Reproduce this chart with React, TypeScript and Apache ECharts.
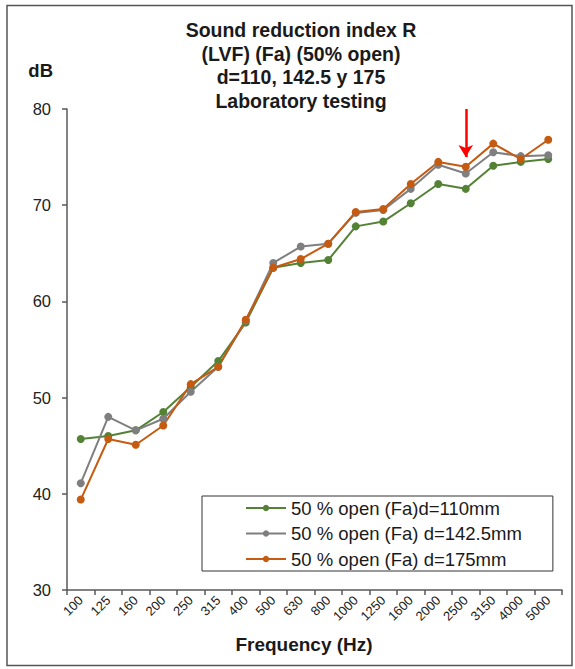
import React, { useEffect, useRef } from "react";
import * as echarts from "echarts";

const frequencies = ["100", "125", "160", "200", "250", "315", "400", "500", "630", "800", "1000", "1250", "1600", "2000", "2500", "3150", "4000", "5000"];
const seriesNames = ["50 % open (Fa)d=110mm", "50 % open (Fa) d=142.5mm", "50 % open (Fa) d=175mm"];
const d110 = [45.7, 46.0, 46.6, 48.5, 51.1, 53.8, 57.8, 63.5, 64.0, 64.3, 67.8, 68.3, 70.2, 72.2, 71.7, 74.1, 74.5, 74.8];
const d1425 = [41.1, 48.0, 46.6, 47.8, 50.6, 53.2, 58.0, 64.0, 65.7, 66.0, 69.2, 69.5, 71.7, 74.2, 73.3, 75.5, 75.1, 75.2];
const d175 = [39.4, 45.7, 45.1, 47.1, 51.4, 53.2, 58.1, 63.5, 64.4, 66.0, 69.3, 69.6, 72.2, 74.5, 74.0, 76.4, 74.8, 76.8];
const colors = ["#548235", "#7F7F7F", "#C55A11"];
const yTicks = { min: 30, max: 80, interval: 10 };
const arrowAt = { freq: "2500", from: 80, to: 75 };
const titleLines = ["Sound reduction index R", "(LVF) (Fa) (50% open)", "d=110, 142.5 y 175", "Laboratory testing"];

const FONT = "'Liberation Sans', Arial, sans-serif";

export default function App() {
  const ref = useRef<HTMLDivElement>(null);
  useEffect(() => {
    if (!ref.current) return;
    const chart = echarts.init(ref.current, undefined, { renderer: "svg" });
    const mkSeries = (name: string, data: number[], color: string, extra: any = {}) => ({
      name,
      type: "line",
      data,
      symbol: "circle",
      symbolSize: 8,
      itemStyle: { color },
      lineStyle: { color, width: 2 },
      ...extra,
    });
    chart.setOption({
      animation: false,
      textStyle: { fontFamily: FONT },
      grid: { left: 67, right: 13, top: 109, bottom: 79 },
      graphic: [
        {
          type: "rect",
          shape: { x: 7, y: 5.5, width: 565, height: 660 },
          style: { fill: "none", stroke: "#555", lineWidth: 1.5 },
          silent: true,
        },
        {
          type: "text",
          x: 301,
          y: 18,
          style: {
            text: titleLines.join("\n"),
            font: `bold 19.5px ${FONT}`,
            fill: "#1a1a1a",
            textAlign: "center",
            textVerticalAlign: "top",
            lineHeight: 23.7,
          },
        },
      ],
      legend: {
        orient: "vertical",
        left: 202,
        top: 496,
        padding: [2, 31, 2, 43],
        itemWidth: 40,
        itemHeight: 8,
        itemGap: 5.5,
        borderColor: "#333",
        borderWidth: 1,
        textStyle: { fontSize: 18.5, color: "#1a1a1a", fontFamily: FONT, lineHeight: 20 },
        data: seriesNames,
      },
      xAxis: {
        type: "category",
        data: frequencies,
        boundaryGap: true,
        name: "Frequency (Hz)",
        nameLocation: "middle",
        nameGap: 45,
        nameTextStyle: { fontSize: 19, fontWeight: "bold", color: "#1a1a1a", padding: [0, 21, 0, 0] },
        axisLine: { lineStyle: { color: "#595959", width: 1.5 } },
        axisTick: { show: true, length: 5, lineStyle: { color: "#595959", width: 1.5 } },
        axisLabel: { rotate: 45, interval: 0, fontSize: 13, color: "#222", margin: 8 },
        splitLine: { show: false },
      },
      yAxis: {
        type: "value",
        min: yTicks.min,
        max: yTicks.max,
        interval: yTicks.interval,
        name: "dB",
        nameLocation: "end",
        nameGap: 29,
        nameTextStyle: { fontSize: 18.5, fontWeight: "bold", color: "#1a1a1a", align: "right", padding: [0, 14, 0, 0] },
        axisLine: { show: true, lineStyle: { color: "#595959", width: 1.5 } },
        axisTick: { show: true, length: 5, lineStyle: { color: "#595959", width: 1.5 } },
        axisLabel: { fontSize: 16.5, color: "#222", margin: 16 },
        splitLine: { show: false },
      },
      series: [
        mkSeries(seriesNames[0], d110, colors[0]),
        mkSeries(seriesNames[1], d1425, colors[1]),
        mkSeries(seriesNames[2], d175, colors[2], {
          markLine: {
            silent: true,
            symbol: ["none", "arrow"],
            symbolSize: [11, 12],
            label: { show: false },
            lineStyle: { color: "#FF0000", width: 2.5, type: "solid" },
            emphasis: { disabled: true },
            data: [[{ coord: [arrowAt.freq, arrowAt.from] }, { coord: [arrowAt.freq, arrowAt.to] }]],
          },
        }),
      ],
    });
    return () => chart.dispose();
  }, []);
  return <div ref={ref} style={{ position: "absolute", left: 0, top: 0, width: 575, height: 669 }} />;
}
